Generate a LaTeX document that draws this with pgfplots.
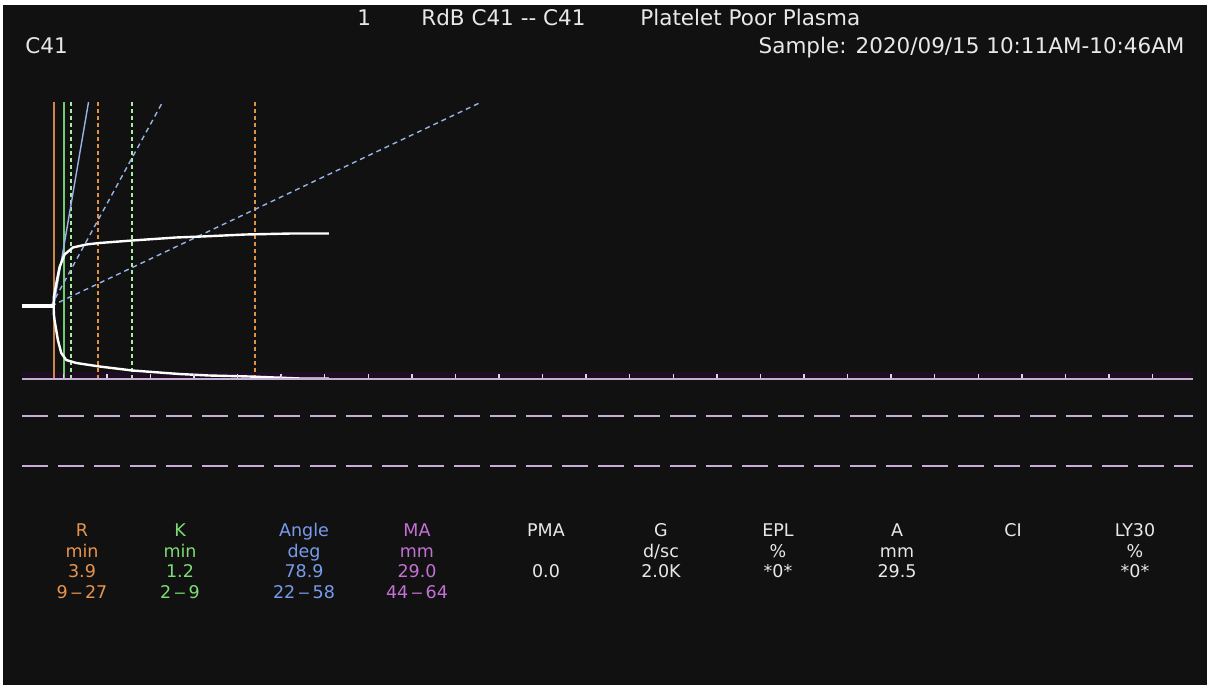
\documentclass[border=0pt]{standalone}
\usepackage{pgfplots}
\pgfplotsset{compat=1.18}
\usepackage{graphicx}
\usepackage{fontspec}
\setmainfont{DejaVu Sans}

\definecolor{bg}{RGB}{17,17,17}
\definecolor{rcol}{RGB}{232,148,78}
\definecolor{kcol}{RGB}{125,220,115}
\definecolor{acol}{RGB}{120,155,235}
\definecolor{macol}{RGB}{196,112,214}
\definecolor{txt}{RGB}{232,232,232}
\definecolor{lav}{RGB}{200,172,216}
\definecolor{glow}{RGB}{30,13,34}
\definecolor{rline}{RGB}{205,135,75}
\definecolor{kline}{RGB}{110,205,110}
\definecolor{kdash}{RGB}{170,235,160}
\definecolor{rdash}{RGB}{225,145,70}
\definecolor{aline}{RGB}{150,180,232}

% dash between the limits of a normal range
\newcommand{\rng}{\kern1.6pt\scalebox{0.62}[1]{—}\kern1.6pt}
% one column of the results table: x, colour, name, unit, value, range
\newcommand{\rescol}[6]{%
  \node[anchor=base, text=#2, inner sep=0pt] at (#1,74.5) {#3};
  \node[anchor=base, text=#2, inner sep=0pt] at (#1,64.25) {#4};
  \node[anchor=base, text=#2, inner sep=0pt] at (#1,54) {#5};
  \node[anchor=base, text=#2, inner sep=0pt] at (#1,43.75) {#6};
}

\begin{document}
\begin{tikzpicture}[x=1pt,y=1pt]
\fill[white] (0,0) rectangle (603.5,343);
\fill[bg] (1.5,0.5) rectangle (603.5,340.5);

\begin{axis}[
  at={(11pt,153.5pt)}, anchor=south west,
  x=4.357pt, y=2.5pt,
  xmin=0.264, xmax=134.65, ymin=-14.6, ymax=40.8,
  axis x line*=bottom, axis y line=none,
  axis line style={draw=lav, line width=1pt, -},
  xtick={5,10,...,130}, xticklabels={}, ytick=\empty,
  tick align=inside, major tick length=2.6pt,
  tick style={draw=lav!55!white, line width=0.7pt},
  axis on top,
  clip=false,
]
% haze above the time line
\addplot[glow, line width=2.5pt] coordinates {(0.264,-13.7) (134.65,-13.7)};
% MA reference limits (44 and 64 mm)
\addplot[lav, line width=1pt, dash pattern=on 13pt off 5pt] coordinates {(0.264,-22) (134.65,-22)};
\addplot[lav, line width=1pt, dash pattern=on 13pt off 5pt] coordinates {(0.264,-32) (134.65,-32)};

% R and R+K markers
\addplot[rline, line width=0.9pt] coordinates {(3.9,-14.6) (3.9,40.8)};
\addplot[kline, line width=0.9pt] coordinates {(5.1,-14.6) (5.1,40.8)};
% normal ranges for K (from R) and R
\addplot[kdash, line width=0.9pt, dash pattern=on 2pt off 1.5pt] coordinates {(5.9,-14.6) (5.9,40.8)};
\addplot[kdash, line width=0.9pt, dash pattern=on 2pt off 1.5pt] coordinates {(12.9,-14.6) (12.9,40.8)};
\addplot[rdash, line width=0.9pt, dash pattern=on 2pt off 1.5pt] coordinates {(9,-14.6) (9,40.8)};
\addplot[rdash, line width=0.9pt, dash pattern=on 2pt off 1.5pt] coordinates {(27,-14.6) (27,40.8)};

% angle and its normal limits
\addplot[aline, line width=0.7pt] coordinates {(3.9,0) (7.9,40.8)};
\addplot[aline, line width=0.7pt, dash pattern=on 2.5pt off 2pt] coordinates {(3.6,0) (16.4,40.8)};
\addplot[aline, line width=0.7pt, dash pattern=on 2.5pt off 2pt] coordinates {(3.6,0) (53.0,40.8)};

% tracing
\addplot[white, line width=1.6pt] coordinates {(0.264,0) (3.9,0)};
\addplot[white, line width=1.2pt, line join=round] coordinates {
  (3.9,0) (3.93,1.9) (4.2,4.5) (4.58,7.8) (5.15,10.3) (6.1,11.7) (7.63,12.3)
  (9.15,12.6) (12.93,13.1) (17.93,13.7) (20.94,13.9) (25.94,14.3) (31.24,14.5) (35.47,14.5)};
\addplot[white, line width=1.2pt, line join=round] coordinates {
  (3.9,0) (3.92,-1.6) (4.0,-2.8) (4.38,-6.8) (4.77,-9.4) (5.34,-10.8) (6.49,-11.4)
  (9.15,-12.1) (12.93,-12.9) (18.3,-13.6) (21.7,-13.9) (26.3,-14.1) (32.2,-14.5) (35.47,-14.5)};
\end{axis}

% header
\begin{scope}[every node/.style={text=txt, inner sep=0pt, font=\fontsize{10.75}{12}\selectfont}]
\node[anchor=base west] at (178.5,330) {1};
\node[anchor=base west] at (210.5,330) {RdB C41 -{}- C41};
\node[anchor=base west] at (320,330) {Platelet Poor Plasma};
\node[anchor=base west] at (12.5,316.25) {C41};
\node[anchor=base east] at (592.5,316.25) {Sample: 2020/09/15 10:11AM-10:46AM};
\end{scope}

% results table
\begin{scope}[font=\fontsize{8.75}{10}\selectfont]
\rescol{41}{rcol}{R}{min}{3.9}{9\rng27}
\rescol{90}{kcol}{K}{min}{1.2}{2\rng9}
\rescol{152}{acol}{Angle}{deg}{78.9}{22\rng58}
\rescol{208.5}{macol}{MA}{mm}{29.0}{44\rng64}
\rescol{273}{txt}{PMA}{}{0.0}{}
\rescol{330.5}{txt}{G}{d/sc}{2.0K}{}
\rescol{389}{txt}{EPL}{\%}{*0*}{}
\rescol{448.5}{txt}{A}{mm}{29.5}{}
\rescol{506.5}{txt}{CI}{}{}{}
\rescol{567.5}{txt}{LY30}{\%}{*0*}{}
\end{scope}

\pgfresetboundingbox
\useasboundingbox (0,0) rectangle (603.5,343);
\end{tikzpicture}
\end{document}
